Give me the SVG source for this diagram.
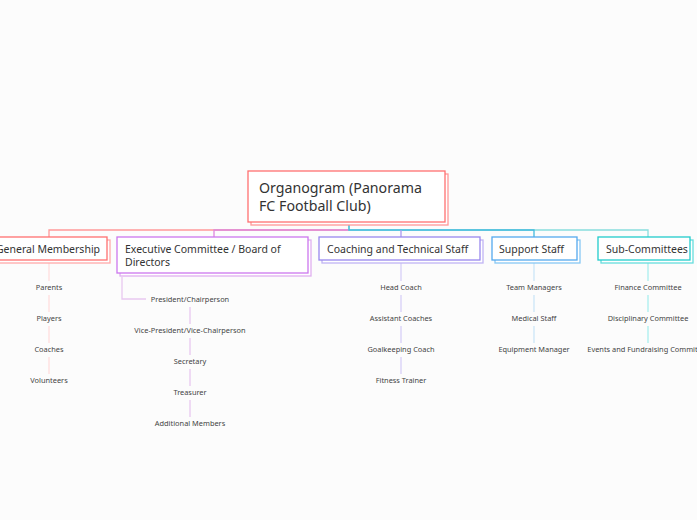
<svg xmlns="http://www.w3.org/2000/svg" width="697" height="520" viewBox="0 0 697 520">
<style>
.bg{fill:#fcfcfc}
.box{fill:#ffffff;stroke-width:1.3}
.sh{fill:#ffffff;stroke-width:1.3}
.t{font-family:"Noto Sans",Lato,sans-serif;fill:#333333}
.root{font-size:14.2px}
.main{font-size:10.5px}
.c{font-size:7.4px;fill:#444444;text-anchor:middle}
.ln{fill:none;stroke-width:1.3}
</style>
<rect class="bg" x="0" y="0" width="697" height="520"/>
<g id="connectors">
  <path class="ln" stroke="#ff9999" d="M349 230 H49 V237"/>
  <path class="ln" stroke="#dd88dd" d="M349 230 H214 V237"/>
  <path class="ln" stroke="#88dddd" d="M349 222 V230 H648 V237"/>
  <path class="ln" stroke="#44bbdd" d="M349 222 V230 H534 V237"/>
  <path class="ln" stroke="#aa99ee" d="M401 230 V237"/>
  <g stroke="#ffdddd" class="ln">
    <path d="M49 263 V281 M49 295 V312 M49 326 V343 M49 357 V374"/>
  </g>
  <g stroke="#e8c8f0" class="ln">
    <path d="M122 277 V299 H146 M190 307 V324 M190 338 V355 M190 369 V386 M190 400 V417"/>
  </g>
  <g stroke="#d8d0f8" class="ln">
    <path d="M401 263 V281 M401 295 V312 M401 326 V343 M401 357 V374"/>
  </g>
  <g stroke="#cce6f8" class="ln">
    <path d="M534 263 V281 M534 295 V312 M534 326 V343"/>
  </g>
  <g stroke="#aaeeee" class="ln">
    <path d="M648 263 V281 M648 295 V312 M648 326 V343"/>
  </g>
</g>
<g id="root">
  <rect class="sh" x="251" y="174" width="197" height="51" stroke="#ff9999"/>
  <rect class="box" x="248" y="171" width="197" height="51" stroke="#ff7070"/>
  <text class="t root" x="259" y="193">Organogram (Panorama</text>
  <text class="t root" x="259" y="211">FC Football Club)</text>
</g>
<g id="general-membership">
  <rect class="sh" x="-6" y="240" width="116" height="23" stroke="#ffaaaa"/>
  <rect class="box" x="-9" y="237" width="116" height="23" stroke="#ff7070"/>
  <text class="t main" x="48" y="252.5" text-anchor="middle">General Membership</text>
</g>
<g id="executive-committee">
  <rect class="sh" x="120" y="240" width="191" height="36" stroke="#e0b0f0"/>
  <rect class="box" x="117" y="237" width="191" height="36" stroke="#cc77ee"/>
  <text class="t main" x="125" y="253">Executive Committee / Board of</text>
  <text class="t main" x="125" y="265.5">Directors</text>
</g>
<g id="coaching-staff">
  <rect class="sh" x="322" y="240" width="161" height="23" stroke="#c0b4f4"/>
  <rect class="box" x="319" y="237" width="161" height="23" stroke="#9988ee"/>
  <text class="t main" x="327" y="252.5">Coaching and Technical Staff</text>
</g>
<g id="support-staff">
  <rect class="sh" x="495" y="240" width="85" height="23" stroke="#88c8f4"/>
  <rect class="box" x="492" y="237" width="85" height="23" stroke="#55aaee"/>
  <text class="t main" x="499" y="252.5">Support Staff</text>
</g>
<g id="sub-committees">
  <rect class="sh" x="601" y="240" width="92" height="23" stroke="#66dddd"/>
  <rect class="box" x="598" y="237" width="92" height="23" stroke="#22cccc"/>
  <text class="t main" x="606" y="252.5">Sub-Committees</text>
</g>
<g id="gm-children">
  <text class="t c" x="49" y="290">Parents</text>
  <text class="t c" x="49" y="321">Players</text>
  <text class="t c" x="49" y="352">Coaches</text>
  <text class="t c" x="49" y="383">Volunteers</text>
</g>
<g id="exec-children">
  <text class="t c" x="190" y="302">President/Chairperson</text>
  <text class="t c" x="190" y="333">Vice-President/Vice-Chairperson</text>
  <text class="t c" x="190" y="364">Secretary</text>
  <text class="t c" x="190" y="395">Treasurer</text>
  <text class="t c" x="190" y="426">Additional Members</text>
</g>
<g id="coaching-children">
  <text class="t c" x="401" y="290">Head Coach</text>
  <text class="t c" x="401" y="321">Assistant Coaches</text>
  <text class="t c" x="401" y="352">Goalkeeping Coach</text>
  <text class="t c" x="401" y="383">Fitness Trainer</text>
</g>
<g id="support-children">
  <text class="t c" x="534" y="290">Team Managers</text>
  <text class="t c" x="534" y="321">Medical Staff</text>
  <text class="t c" x="534" y="352">Equipment Manager</text>
</g>
<g id="sub-children">
  <text class="t c" x="648" y="290">Finance Committee</text>
  <text class="t c" x="648" y="321">Disciplinary Committee</text>
  <text class="t c" x="648" y="352">Events and Fundraising Committee</text>
</g>
</svg>
